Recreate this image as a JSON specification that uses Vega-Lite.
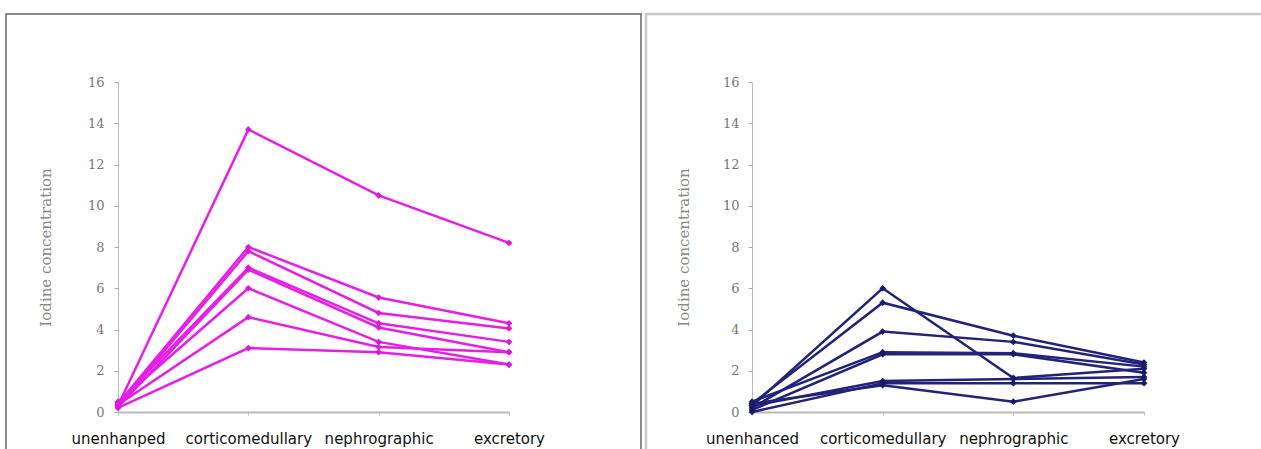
{
  "$schema": "https://vega.github.io/schema/vega-lite/v6.json",
  "padding": {"left": 5, "top": 12, "right": 0, "bottom": 0},
  "background": "white",
  "spacing": 2,
  "config": {
    "axis": {"grid": false},
    "view": {"stroke": "#888", "strokeWidth": 1.5}
  },
  "datasets": {
    "contrastA": [
      {"series": "1", "phase": "unenhanped", "value": 0.3},
      {"series": "1", "phase": "corticomedullary", "value": 13.7},
      {"series": "1", "phase": "nephrographic", "value": 10.5},
      {"series": "1", "phase": "excretory", "value": 8.2},
      {"series": "2", "phase": "unenhanped", "value": 0.4},
      {"series": "2", "phase": "corticomedullary", "value": 8.0},
      {"series": "2", "phase": "nephrographic", "value": 5.55},
      {"series": "2", "phase": "excretory", "value": 4.3},
      {"series": "3", "phase": "unenhanped", "value": 0.3},
      {"series": "3", "phase": "corticomedullary", "value": 7.8},
      {"series": "3", "phase": "nephrographic", "value": 4.8},
      {"series": "3", "phase": "excretory", "value": 4.05},
      {"series": "4", "phase": "unenhanped", "value": 0.45},
      {"series": "4", "phase": "corticomedullary", "value": 7.0},
      {"series": "4", "phase": "nephrographic", "value": 4.3},
      {"series": "4", "phase": "excretory", "value": 3.4},
      {"series": "5", "phase": "unenhanped", "value": 0.25},
      {"series": "5", "phase": "corticomedullary", "value": 6.9},
      {"series": "5", "phase": "nephrographic", "value": 4.1},
      {"series": "5", "phase": "excretory", "value": 2.9},
      {"series": "6", "phase": "unenhanped", "value": 0.5},
      {"series": "6", "phase": "corticomedullary", "value": 6.0},
      {"series": "6", "phase": "nephrographic", "value": 3.4},
      {"series": "6", "phase": "excretory", "value": 2.3},
      {"series": "7", "phase": "unenhanped", "value": 0.35},
      {"series": "7", "phase": "corticomedullary", "value": 4.6},
      {"series": "7", "phase": "nephrographic", "value": 3.15},
      {"series": "7", "phase": "excretory", "value": 2.9},
      {"series": "8", "phase": "unenhanped", "value": 0.2},
      {"series": "8", "phase": "corticomedullary", "value": 3.1},
      {"series": "8", "phase": "nephrographic", "value": 2.9},
      {"series": "8", "phase": "excretory", "value": 2.3}
    ],
    "contrastB": [
      {"series": "1", "phase": "unenhanced", "value": 0.3},
      {"series": "1", "phase": "corticomedullary", "value": 6.0},
      {"series": "1", "phase": "nephrographic", "value": 1.65},
      {"series": "1", "phase": "excretory", "value": 2.1},
      {"series": "2", "phase": "unenhanced", "value": 0.4},
      {"series": "2", "phase": "corticomedullary", "value": 5.3},
      {"series": "2", "phase": "nephrographic", "value": 3.7},
      {"series": "2", "phase": "excretory", "value": 2.4},
      {"series": "3", "phase": "unenhanced", "value": 0.2},
      {"series": "3", "phase": "corticomedullary", "value": 3.9},
      {"series": "3", "phase": "nephrographic", "value": 3.4},
      {"series": "3", "phase": "excretory", "value": 2.3},
      {"series": "4", "phase": "unenhanced", "value": 0.5},
      {"series": "4", "phase": "corticomedullary", "value": 2.9},
      {"series": "4", "phase": "nephrographic", "value": 2.85},
      {"series": "4", "phase": "excretory", "value": 2.2},
      {"series": "5", "phase": "unenhanced", "value": 0.1},
      {"series": "5", "phase": "corticomedullary", "value": 2.8},
      {"series": "5", "phase": "nephrographic", "value": 2.8},
      {"series": "5", "phase": "excretory", "value": 1.9},
      {"series": "6", "phase": "unenhanced", "value": 0.3},
      {"series": "6", "phase": "corticomedullary", "value": 1.5},
      {"series": "6", "phase": "nephrographic", "value": 1.6},
      {"series": "6", "phase": "excretory", "value": 1.7},
      {"series": "7", "phase": "unenhanced", "value": 0.0},
      {"series": "7", "phase": "corticomedullary", "value": 1.4},
      {"series": "7", "phase": "nephrographic", "value": 1.4},
      {"series": "7", "phase": "excretory", "value": 1.4},
      {"series": "8", "phase": "unenhanced", "value": 0.4},
      {"series": "8", "phase": "corticomedullary", "value": 1.3},
      {"series": "8", "phase": "nephrographic", "value": 0.5},
      {"series": "8", "phase": "excretory", "value": 1.6}
    ]
  },
  "hconcat": [
    {
      "width": 635,
      "height": 440,
      "view": {"stroke": "#666", "strokeWidth": 1.5},
      "data": {"name": "contrastA"},
      "mark": {"type": "line", "color": "#e81ee8", "strokeWidth": 2.5,
        "point": {"shape": "diamond", "size": 45, "filled": true, "color": "#dc18dc"}},
      "encoding": {
        "x": {"field": "phase", "type": "ordinal",
          "scale": {"type": "point", "domain": ["unenhanped", "corticomedullary", "nephrographic", "excretory"], "range": [112, 503], "padding": 0},
          "axis": {"title": null, "offset": -42, "labelAngle": 0, "domainColor": "#bbb", "domainWidth": 2, "tickColor": "#bbb", "tickSize": 3,
            "labelFont": "DejaVu Sans", "labelFontSize": 15, "labelColor": "#111", "labelPadding": 16}},
        "y": {"field": "value", "type": "quantitative",
          "scale": {"domain": [0, 16], "range": [398, 68], "nice": false, "zero": true},
          "axis": {"title": "Iodine concentration", "offset": -112, "values": [0, 2, 4, 6, 8, 10, 12, 14, 16],
            "domainColor": "#bbb", "tickColor": "#aaa", "tickSize": 4, "labelPadding": 10,
            "labelFont": "DejaVu Serif", "labelFontSize": 13, "labelColor": "#777",
            "titleFont": "DejaVu Serif", "titleFontSize": 15, "titleFontWeight": "normal", "titleColor": "#888", "titlePadding": 34}},
        "detail": {"field": "series"}
      }
    },
    {
      "width": 630,
      "height": 440,
      "view": {"stroke": "#c8c8c8", "strokeWidth": 2.5},
      "data": {"name": "contrastB"},
      "mark": {"type": "line", "color": "#22227a", "strokeWidth": 2.5,
        "point": {"shape": "diamond", "size": 45, "filled": true, "color": "#1a1a6a"}},
      "encoding": {
        "x": {"field": "phase", "type": "ordinal",
          "scale": {"type": "point", "domain": ["unenhanced", "corticomedullary", "nephrographic", "excretory"], "range": [106, 498], "padding": 0},
          "axis": {"title": null, "offset": -42, "labelAngle": 0, "domainColor": "#bbb", "domainWidth": 2, "tickColor": "#bbb", "tickSize": 3,
            "labelFont": "DejaVu Sans", "labelFontSize": 15, "labelColor": "#111", "labelPadding": 16}},
        "y": {"field": "value", "type": "quantitative",
          "scale": {"domain": [0, 16], "range": [398, 68], "nice": false, "zero": true},
          "axis": {"title": "Iodine concentration", "offset": -106, "values": [0, 2, 4, 6, 8, 10, 12, 14, 16],
            "domainColor": "#bbb", "tickColor": "#aaa", "tickSize": 4, "labelPadding": 9,
            "labelFont": "DejaVu Serif", "labelFontSize": 13, "labelColor": "#777",
            "titleFont": "DejaVu Serif", "titleFontSize": 15, "titleFontWeight": "normal", "titleColor": "#888", "titlePadding": 31}},
        "detail": {"field": "series"}
      }
    }
  ]
}
